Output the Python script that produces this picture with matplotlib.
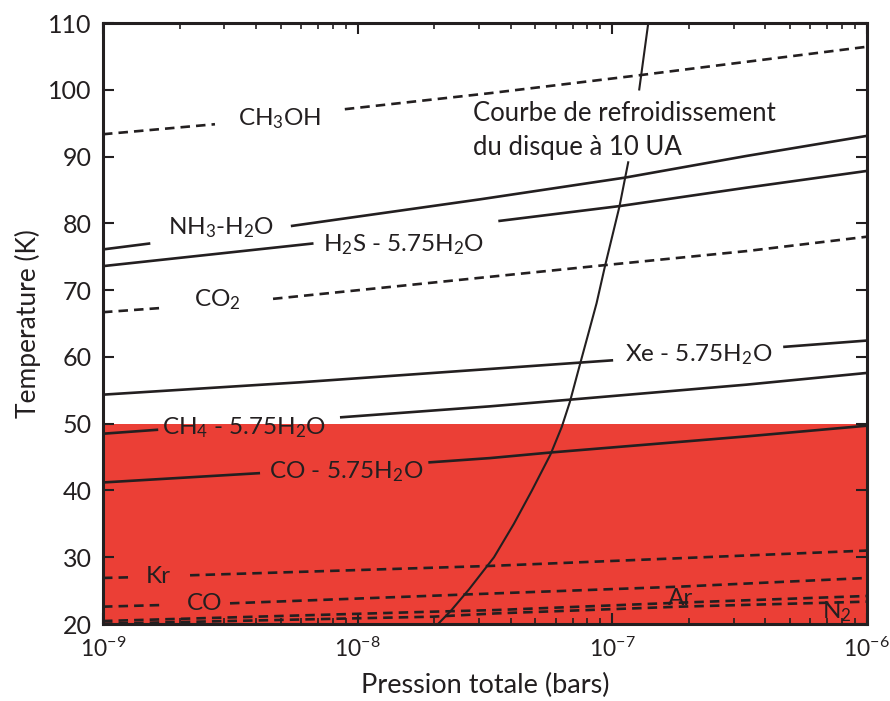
import numpy as np
import matplotlib
matplotlib.use("Agg")
import matplotlib.pyplot as plt

plt.rcParams["font.family"] = ["Lato", "DejaVu Sans"]
plt.rcParams["mathtext.fontset"] = "custom"
plt.rcParams["mathtext.rm"] = "Lato"
plt.rcParams["mathtext.it"] = "Lato:italic"
plt.rcParams["mathtext.bf"] = "Lato:bold"

INK = "#231f20"
RED = "#eb3f36"

# --- data: (log10 p [bar], T [K]); each curve is a list of
# segments, the gaps are where the label sits on the curve
ch3oh = [[(-9.0, 93.35), (-8.56, 94.85)],
         [(-8.05, 97.1), (-7.48, 99.5), (-6.89, 102.2), (-6.0, 106.45)]]
nh3 = [[(-9.0, 76.1), (-8.814, 77.0)],
       [(-8.262, 79.6), (-7.519, 83.6), (-6.95, 86.85), (-6.472, 90.1), (-6.0, 93.1)]]
h2s = [[(-9.0, 73.6), (-8.173, 77.0)],
       [(-7.447, 80.35), (-6.969, 82.6), (-6.472, 85.35), (-6.0, 87.85)]]
co2 = [[(-9.0, 66.7), (-8.764, 67.35)],
       [(-8.332, 68.7), (-7.519, 71.85), (-7.028, 73.75), (-6.472, 75.85), (-6.0, 78.0)]]
xe = [[(-9.0, 54.35), (-8.226, 56.2), (-7.48, 58.2), (-6.996, 59.5)],
      [(-6.328, 61.5), (-6.0, 62.45)]]
ch4 = [[(-9.0, 48.5), (-8.783, 49.1)],
       [(-8.069, 50.95), (-7.48, 52.6), (-7.166, 53.6), (-6.472, 55.85), (-6.0, 57.6)]]
co_h2o = [[(-9.0, 41.2), (-8.383, 42.6)],
          [(-7.722, 44.2), (-7.48, 44.85), (-7.238, 45.7), (-6.472, 48.1), (-6.0, 49.7)]]
kr = [[(-9.0, 26.9), (-8.894, 27.0)],
      [(-8.658, 27.3), (-7.48, 28.7), (-6.0, 31.0)]]
co = [[(-9.0, 22.6), (-8.764, 22.85)],
      [(-8.501, 23.1), (-7.452, 24.6), (-6.734, 25.6), (-6.0, 26.9)]]
ar = [[(-9.0, 20.45), (-7.704, 21.85), (-7.452, 22.1), (-6.734, 23.2), (-6.0, 24.2)]]
n2 = [[(-9.0, 20.05), (-7.704, 21.1), (-7.452, 21.6), (-6.734, 22.6), (-6.0, 23.35)]]

# cooling curve of the disc at 10 AU
cooling = [[(-7.684, 20.0), (-7.633, 22.0), (-7.562, 25.2), (-7.464, 30.0),
            (-7.386, 35.0), (-7.315, 40.0), (-7.242, 45.4), (-7.198, 49.5),
            (-7.166, 53.25), (-7.123, 59.35), (-7.094, 63.4), (-7.061, 68.05),
            (-7.028, 73.6), (-6.971, 82.55), (-6.936, 89.3)],
           [(-6.894, 99.9), (-6.858, 110.0)]]

solid_curves = [nh3, h2s, xe, ch4, co_h2o]
dashed_curves = [ch3oh, co2, kr, co, ar, n2]

# labels: (text, log10 p at centre, T at baseline)
labels = [
    (r"CH$_3$OH", -8.307, 94.7),
    (r"NH$_3$-H$_2$O", -8.538, 78.35),
    (r"H$_2$S - 5.75H$_2$O", -7.818, 75.75),
    (r"CO$_2$", -8.552, 67.6),
    (r"Xe - 5.75H$_2$O", -6.661, 59.35),
    (r"CH$_4$ - 5.75H$_2$O", -8.446, 48.35),
    (r"CO - 5.75H$_2$O", -8.046, 41.85),
    ("Kr", -8.783, 26.2),
    ("CO", -8.601, 22.1),
    ("Ar", -6.732, 22.85),
    (r"N$_2$", -6.119, 20.85),
]
cooling_text = ["Courbe de refroidissement", "du disque à 10 UA"]
cooling_text_pos = (-7.547, [95.35, 90.2])

red_zone = (20, 50)
xlim = (1e-9, 1e-6)
ylim = (20, 110)
yticks = np.arange(20, 111, 10)


def draw(ax, curve, **kw):
    for seg in curve:
        seg = np.array(seg)
        ax.plot(10 ** seg[:, 0], seg[:, 1], color=INK, solid_capstyle="butt",
                dash_capstyle="butt", solid_joinstyle="round", **kw)


fig = plt.figure(figsize=(8.9, 7.01), dpi=100)
ax = fig.add_axes([0.1157, 0.1098, 0.8581, 0.8573])
ax.set_xscale("log")
ax.set_xlim(*xlim)
ax.set_ylim(*ylim)

ax.axhspan(*red_zone, color=RED, lw=0, zorder=0)

for c in solid_curves:
    draw(ax, c, lw=1.9, zorder=3)
for c in dashed_curves:
    draw(ax, c, lw=1.9, linestyle=(0, (3.6, 2.3)), zorder=3)
draw(ax, cooling, lw=1.5, zorder=4)

for txt, lp, t in labels:
    ax.text(10 ** lp, t, txt, ha="center", va="baseline", fontsize=17.5,
            color=INK, zorder=5)
for line, t in zip(cooling_text, cooling_text_pos[1]):
    ax.text(10 ** cooling_text_pos[0], t, line, ha="left", va="baseline",
            fontsize=18.5, color=INK, zorder=5)

ax.set_yticks(yticks)
ax.set_xticks([1e-9, 1e-8, 1e-7, 1e-6])
ax.tick_params(which="both", direction="in", top=True, right=True,
               colors=INK)
ax.tick_params(axis="y", labelsize=18, pad=8)
ax.tick_params(axis="x", labelsize=16.5, pad=9)
ax.tick_params(which="major", length=8, width=1.5)
ax.tick_params(which="minor", length=4, width=1.2)
for s in ax.spines.values():
    s.set_linewidth(2.2)
    s.set_color(INK)
    s.set_zorder(6)

ax.set_xlabel("Pression totale (bars)", fontsize=19.5, color=INK, labelpad=9)
ax.set_ylabel("Temperature (K)", fontsize=19, color=INK, labelpad=5)

fig.savefig("out.png", dpi=100)
